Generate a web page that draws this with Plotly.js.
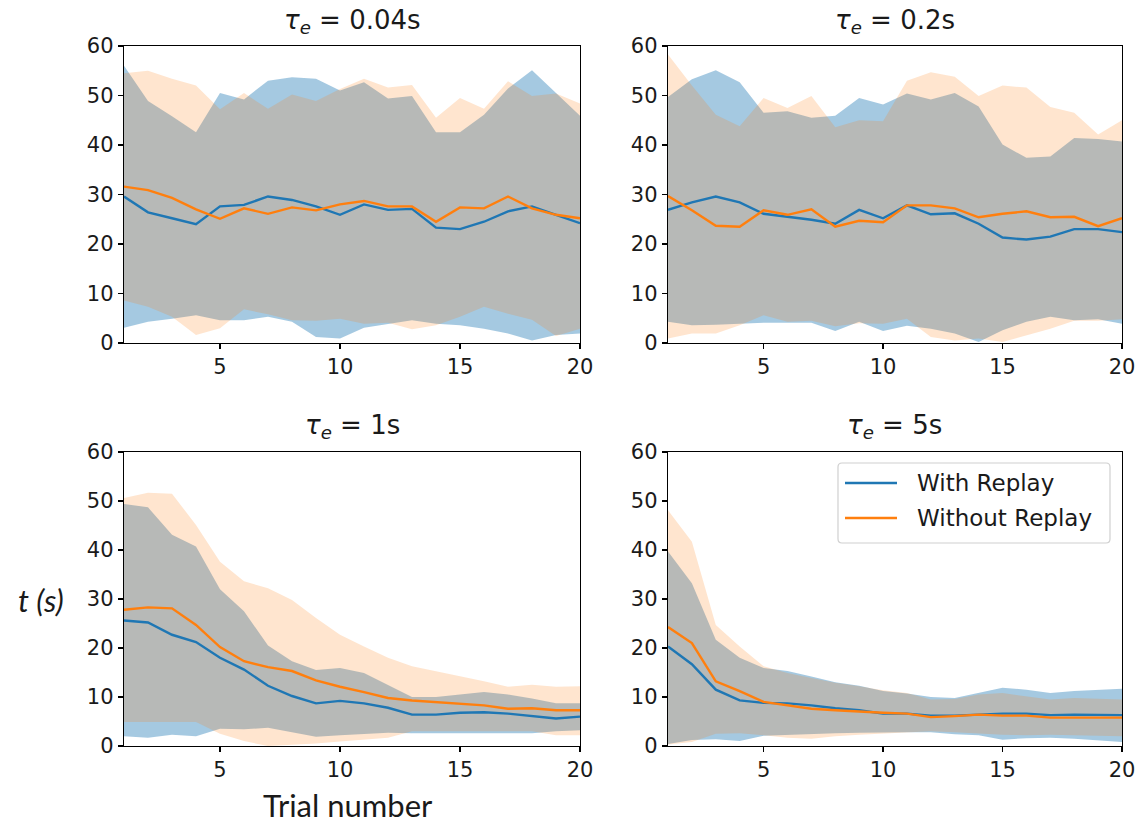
<!DOCTYPE html>
<html>
<head>
<meta charset="utf-8">
<script src="https://cdn.plot.ly/plotly-3.0.1.min.js"></script>
<style>html,body{margin:0;padding:0;background:#fff;}#chart{width:1144px;height:828px;}</style>
</head>
<body>
<div id="chart"></div>
<script>
// ---- data ----
const trials = [1,2,3,4,5,6,7,8,9,10,11,12,13,14,15,16,17,18,19,20];
const panelTitles = ["0.04s", "0.2s", "1s", "5s"];
const seriesNames = ["With Replay", "Without Replay"];
const xTicks = [5, 10, 15, 20];
const yTicks = [0, 10, 20, 30, 40, 50, 60];

// tau_e = 0.04s
const withMean004    = [29.6,26.4,25.2,24.0,27.6,27.9,29.6,28.9,27.6,25.9,28.0,26.9,27.1,23.3,23.0,24.5,26.6,27.6,25.9,24.2];
const withUpper004   = [56.0,48.9,45.8,42.6,50.5,49.2,53.0,53.7,53.4,51.0,52.7,49.4,49.9,42.6,42.6,46.1,51.4,55.1,50.5,45.9];
const withLower004   = [3.1,4.3,4.9,5.6,4.6,4.6,5.3,4.3,1.2,0.9,3.1,3.9,4.6,3.9,3.6,2.9,1.9,0.5,1.6,1.9];
const withoutMean004  = [31.6,30.9,29.3,27.0,25.1,27.2,26.1,27.4,26.8,28.0,28.7,27.6,27.6,24.5,27.4,27.2,29.6,27.2,25.9,25.2];
const withoutUpper004 = [54.5,55.0,53.4,52.0,47.2,50.5,47.3,50.2,48.9,51.3,53.4,51.6,52.1,45.5,49.5,47.3,52.9,49.9,50.4,48.4];
const withoutLower004 = [8.6,7.3,5.3,1.6,3.0,6.8,5.8,4.6,4.5,4.9,3.9,4.1,2.8,3.6,5.3,7.3,5.9,4.7,1.4,2.9];

// tau_e = 0.2s
const withMean02    = [26.9,28.4,29.6,28.4,26.1,25.5,24.9,24.1,26.9,25.2,27.8,26.0,26.2,24.1,21.3,20.9,21.5,23.0,23.0,22.4];
const withUpper02   = [49.7,53.3,55.1,52.7,46.5,46.8,45.5,45.9,49.5,48.2,50.4,49.2,50.5,47.8,40.1,37.4,37.7,41.4,41.2,40.7];
const withLower02   = [4.3,3.6,3.7,3.9,4.1,4.1,4.1,2.4,4.3,2.4,3.5,2.9,1.9,0.2,2.6,4.3,5.3,4.6,4.8,3.9];
const withoutMean02  = [29.7,26.8,23.7,23.5,26.8,25.9,27.0,23.5,24.7,24.4,27.8,27.8,27.2,25.4,26.1,26.6,25.4,25.5,23.6,25.2];
const withoutUpper02 = [58.3,52.0,46.1,43.8,49.5,47.5,49.9,43.6,45.0,44.8,53.0,54.7,53.8,49.9,52.0,51.6,47.7,46.5,42.1,45.0];
const withoutLower02 = [0.9,1.9,1.9,3.6,5.6,4.3,4.5,3.4,4.0,3.9,4.9,1.2,0.5,0.9,0.2,1.6,2.9,4.5,4.5,4.8];

// tau_e = 1s
const withMean1    = [25.6,25.2,22.7,21.2,18.0,15.6,12.3,10.2,8.7,9.2,8.7,7.8,6.4,6.4,6.8,6.9,6.6,6.1,5.6,6.0];
const withUpper1   = [49.4,48.7,43.1,40.7,32.0,27.5,20.5,17.3,15.5,15.9,14.9,12.5,10.0,10.0,10.5,11.0,10.5,9.7,8.7,8.7];
const withLower1   = [2.0,1.7,2.3,2.0,3.5,3.4,3.7,2.8,1.9,2.2,2.4,2.7,2.6,2.6,2.6,2.6,2.6,2.6,3.0,3.2];
const withoutMean1  = [27.8,28.3,28.1,24.7,20.2,17.3,16.1,15.3,13.4,12.1,11.0,9.8,9.3,9.0,8.6,8.3,7.6,7.7,7.3,7.3];
const withoutUpper1 = [50.6,51.7,51.5,45.1,37.6,33.6,32.2,29.8,26.1,22.7,20.3,18.0,16.3,15.3,14.2,13.2,12.1,12.5,12.1,12.2];
const withoutLower1 = [4.9,4.9,4.9,4.9,2.5,1.0,0.0,0.2,0.5,0.9,1.3,1.7,3.0,3.0,3.0,3.0,3.0,3.0,2.2,2.2];

// tau_e = 5s
const withMean5    = [20.3,16.7,11.5,9.3,8.8,8.7,8.3,7.7,7.3,6.6,6.6,6.2,6.2,6.4,6.6,6.6,6.3,6.4,6.4,6.3];
const withUpper5   = [39.7,33.2,21.7,18.0,15.9,15.3,14.2,13.0,12.3,11.2,10.7,10.0,9.8,10.8,11.9,11.5,10.8,11.2,11.4,11.7];
const withLower5   = [0.4,1.2,1.4,1.0,2.1,2.3,2.5,2.6,2.7,2.8,2.8,2.8,2.4,2.2,1.3,1.6,1.7,1.5,1.2,0.8];
const withoutMean5  = [24.3,21.0,13.2,11.2,9.0,8.3,7.6,7.3,7.0,6.8,6.6,5.9,6.1,6.4,6.2,6.2,5.8,5.8,5.8,5.8];
const withoutUpper5 = [48.1,41.7,24.7,20.3,16.3,14.9,13.9,12.9,12.2,11.4,10.8,9.5,9.6,10.5,10.8,10.2,9.5,9.8,9.6,9.5];
const withoutLower5 = [0.3,0.8,2.5,2.6,2.2,1.7,1.5,2.0,2.3,2.5,2.8,3.0,2.8,2.5,2.3,2.2,2.3,2.2,2.1,2.0];

// ---- styling ----
const BLUE = '#1f77b4', ORANGE = '#ff7f0e';
const BLUE_FILL = 'rgba(31,119,180,0.4)', ORANGE_FILL = 'rgba(255,127,14,0.2)';
const TXT = '#1a1a1a';

const panels = [
  {wm: withMean004, wu: withUpper004, wl: withLower004, om: withoutMean004, ou: withoutUpper004, ol: withoutLower004},
  {wm: withMean02, wu: withUpper02, wl: withLower02, om: withoutMean02, ou: withoutUpper02, ol: withoutLower02},
  {wm: withMean1, wu: withUpper1, wl: withLower1, om: withoutMean1, ou: withoutUpper1, ol: withoutLower1},
  {wm: withMean5, wu: withUpper5, wl: withLower5, om: withoutMean5, ou: withoutUpper5, ol: withoutLower5}
];

const W = 1144, H = 828;
const boxes = [
  {x0:124, x1:580, y0:46, y1:343},
  {x0:668, x1:1122, y0:46, y1:343},
  {x0:124, x1:580, y0:452, y1:746},
  {x0:668, x1:1122, y0:452, y1:746}
];
const px = v => v / W, py = v => 1 - v / H;

const traces = [];
const layout = {
  width: W, height: H,
  margin: {l:0, r:0, t:0, b:0},
  paper_bgcolor: '#fff', plot_bgcolor: '#fff',
  font: {family: 'DejaVu Sans', size: 21, color: TXT},
  showlegend: false,
  annotations: [],
  shapes: []
};

panels.forEach((p, i) => {
  const n = i + 1;
  const xa = 'x' + (n === 1 ? '' : n), ya = 'y' + (n === 1 ? '' : n);
  const base = {x: trials, xaxis: xa, yaxis: ya, mode: 'lines', hoverinfo: 'skip'};
  traces.push(Object.assign({}, base, {y: p.wl, line: {width: 0, color: BLUE}, fill: 'none'}));
  traces.push(Object.assign({}, base, {y: p.wu, line: {width: 0, color: BLUE}, fill: 'tonexty', fillcolor: BLUE_FILL}));
  traces.push(Object.assign({}, base, {y: p.ol, line: {width: 0, color: ORANGE}, fill: 'none'}));
  traces.push(Object.assign({}, base, {y: p.ou, line: {width: 0, color: ORANGE}, fill: 'tonexty', fillcolor: ORANGE_FILL}));
  traces.push(Object.assign({}, base, {y: p.wm, name: seriesNames[0], line: {width: 2.4, color: BLUE}}));
  traces.push(Object.assign({}, base, {y: p.om, name: seriesNames[1], line: {width: 2.4, color: ORANGE}}));

  const b = boxes[i];
  const axCommon = {
    showline: true, mirror: true, linecolor: '#000', linewidth: 1.2,
    ticks: 'outside', ticklen: 5, tickwidth: 1.2, tickcolor: '#000',
    showgrid: false, zeroline: false, fixedrange: true,
    tickfont: {family: 'DejaVu Sans', size: 21, color: TXT}
  };
  layout['xaxis' + (n === 1 ? '' : n)] = Object.assign({}, axCommon, {
    domain: [px(b.x0), px(b.x1)], range: [1, 20], tickvals: xTicks, anchor: ya
  });
  layout['yaxis' + (n === 1 ? '' : n)] = Object.assign({}, axCommon, {
    domain: [py(b.y1), py(b.y0)], range: [0, 60], tickvals: yTicks, anchor: xa
  });
  layout.annotations.push({
    xref: 'paper', yref: 'paper', x: px((b.x0 + b.x1) / 2), y: py(b.y0 - 25),
    xanchor: 'center', yanchor: 'middle', showarrow: false,
    text: '<i>τ</i><sub><i>e</i></sub> = ' + panelTitles[i],
    font: {family: 'DejaVu Sans', size: 26, color: TXT}
  });
});

// axis labels
layout.annotations.push({
  xref: 'paper', yref: 'paper', x: px(348), y: py(805), xanchor: 'center', yanchor: 'middle',
  showarrow: false, text: 'Trial number', font: {family: 'Lato', size: 31, color: TXT}
});
layout.annotations.push({
  xref: 'paper', yref: 'paper', x: px(41), y: py(600), xanchor: 'center', yanchor: 'middle',
  showarrow: false, text: '<i>t (s)</i>', font: {family: 'Lato', size: 31, color: TXT}
});

// legend drawn in the bottom-right panel
const lg = {x0: 838, x1: 1110, y0: 463, y1: 543, r: 4};
layout.shapes.push({
  type: 'path', xref: 'paper', yref: 'paper',
  path: `M ${px(lg.x0 + lg.r)},${py(lg.y0)} L ${px(lg.x1 - lg.r)},${py(lg.y0)} Q ${px(lg.x1)},${py(lg.y0)} ${px(lg.x1)},${py(lg.y0 + lg.r)} ` +
        `L ${px(lg.x1)},${py(lg.y1 - lg.r)} Q ${px(lg.x1)},${py(lg.y1)} ${px(lg.x1 - lg.r)},${py(lg.y1)} ` +
        `L ${px(lg.x0 + lg.r)},${py(lg.y1)} Q ${px(lg.x0)},${py(lg.y1)} ${px(lg.x0)},${py(lg.y1 - lg.r)} ` +
        `L ${px(lg.x0)},${py(lg.y0 + lg.r)} Q ${px(lg.x0)},${py(lg.y0)} ${px(lg.x0 + lg.r)},${py(lg.y0)} Z`,
  fillcolor: 'rgba(255,255,255,0.8)', line: {color: '#d0d0d0', width: 1.2}
});
[[seriesNames[0], BLUE, 483], [seriesNames[1], ORANGE, 518]].forEach(([name, col, yy]) => {
  layout.shapes.push({type: 'line', xref: 'paper', yref: 'paper', x0: px(845), x1: px(897), y0: py(yy), y1: py(yy),
    line: {color: col, width: 2.4}});
  layout.annotations.push({xref: 'paper', yref: 'paper', x: px(915), y: py(yy), xanchor: 'left', yanchor: 'middle',
    showarrow: false, text: name, font: {family: 'DejaVu Sans', size: 23, color: TXT}});
});

Plotly.newPlot('chart', traces, layout, {displayModeBar: false, staticPlot: true});
</script>
</body>
</html>
